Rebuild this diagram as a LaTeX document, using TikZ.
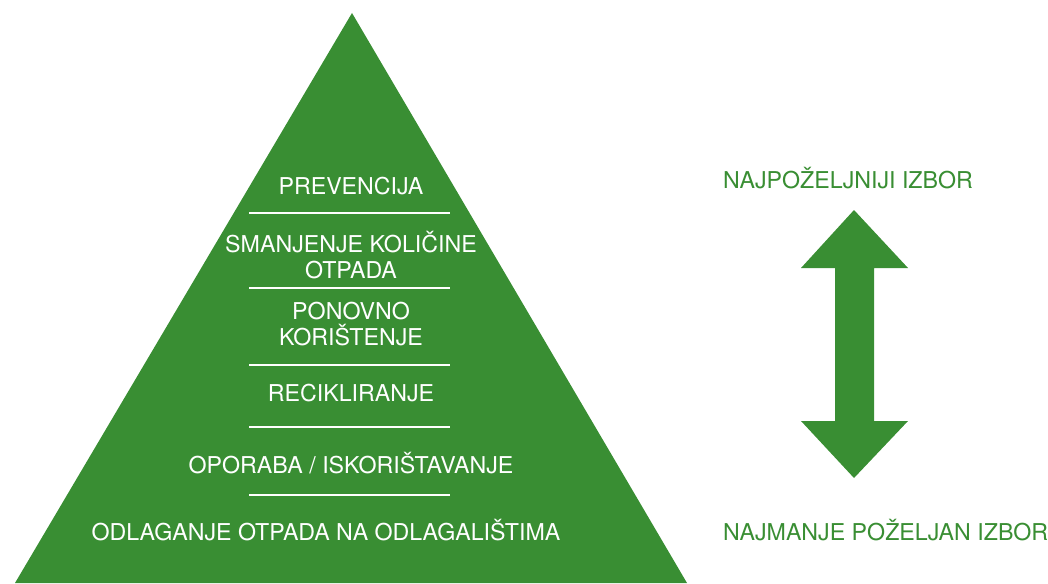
\documentclass[tikz,border=0pt]{standalone}
\usepackage{fontspec}
\setmainfont{TeX Gyre Heros}
\usepackage{xcolor}
\usepackage{tikz}
\usetikzlibrary{positioning}
\definecolor{zelena}{RGB}{57,142,51}

\begin{document}
\begin{tikzpicture}[x=0.5pt,y=-0.5pt]
	\tikzstyle{razina}=[text=white,align=center,font=\fontsize{11.6}{13}\selectfont]
	\tikzstyle{izbor}=[text=zelena,anchor=west,font=\fontsize{11.6}{13}\selectfont]
	\tikzstyle{crta}=[white,line width=1pt]
	\useasboundingbox (0,0) rectangle (1048,583);
	% piramida
	\fill[zelena] (352,13) -- (687,583) -- (15,583) -- cycle;
	\foreach \y in {213,288,365,427,495}
		\draw[crta] (249,\y) -- (450,\y);
	\node[razina](prevencija) at (351,186) {PREVENCIJA};
	\node[razina](smanjenje) at (351,255) {SMANJENJE KOLIČINE\\OTPADA};
	\node[razina](ponovno) at (351,324) {PONOVNO\\KORIŠTENJE};
	\node[razina](recikliranje) at (351,393) {RECIKLIRANJE};
	\node[razina](oporaba) at (351,463) {OPORABA / ISKORIŠTAVANJE};
	\node[razina](odlaganje) at (326,530) {ODLAGANJE OTPADA NA ODLAGALIŠTIMA};
	% strelica
	\fill[zelena] (854,210) -- (908,268) -- (874,268) -- (874,421) -- (908,421)
		-- (854,478) -- (801,421) -- (835,421) -- (835,268) -- (801,268) -- cycle;
	\node[izbor](najvise) at (716,178) {NAJPOŽELJNIJI IZBOR};
	\node[izbor](najmanje) at (716,530) {NAJMANJE POŽELJAN IZBOR};
\end{tikzpicture}
\end{document}
